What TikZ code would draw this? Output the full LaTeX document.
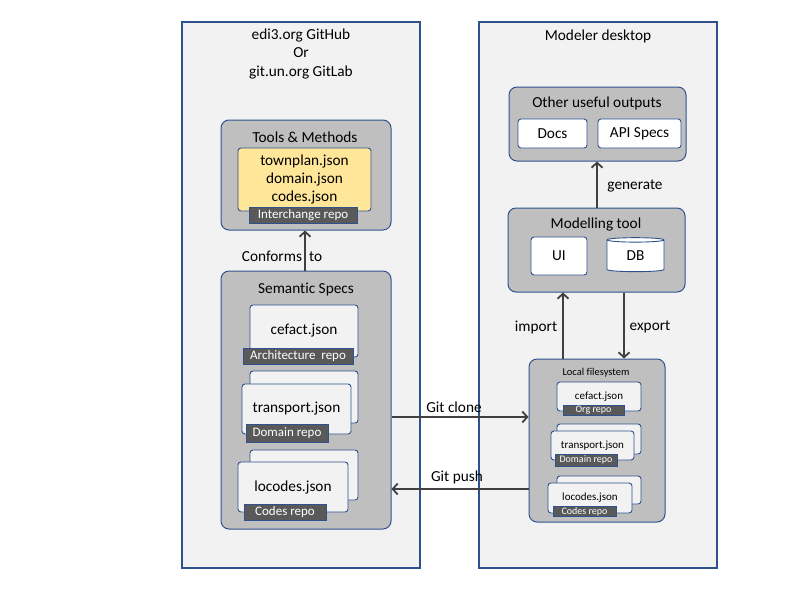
\documentclass[tikz,border=0pt]{standalone}
\usepackage{fontspec}
\setmainfont{Carlito}[Ligatures=NoCommon]
\usetikzlibrary{arrows.meta,shapes.geometric}
\definecolor{bord}{HTML}{2F528F}
\definecolor{panelfill}{HTML}{F2F2F2}
\definecolor{grpfill}{HTML}{BFBFBF}
\definecolor{yel}{HTML}{FFE699}
\definecolor{tagfill}{HTML}{595959}
\definecolor{arrc}{HTML}{404040}
\newcommand{\fs}[2]{\fontsize{#1pt}{#2pt}\selectfont}
\tikzset{
  panel/.style={draw=bord, fill=panelfill, line width=1.5pt, minimum width=#1, inner sep=0pt, minimum height=546pt},
  grp/.style={draw=bord, fill=grpfill, line width=1pt, rounded corners=8pt, inner sep=0pt},
  card/.style={draw=bord, fill=panelfill, line width=0.9pt, rounded corners=3pt, inner sep=0pt, font=\fs{15.3}{18}},
  scard/.style={card, font=\fs{11}{13}},
  tag/.style={draw=bord, fill=tagfill, line width=0.8pt, text=white, inner sep=0pt, font=\fs{13}{15}},
  stag/.style={tag, font=\fs{10}{12}},
  ttl/.style={inner sep=0pt, font=\fs{15.3}{18}, align=center},
  lbl/.style={inner sep=0pt, font=\fs{15.3}{18}, text=black},
  arr/.style={draw=arrc, line width=2.4pt, -{Straight Barb[length=5pt,width=11pt,line width=1.8pt]}},
  sz/.style 2 args={minimum width=#1, minimum height=#2},
}
\begin{document}
\begin{tikzpicture}[x=1pt,y=-1pt]
\useasboundingbox (0,0) rectangle (800,600);
% panels
\node[panel=238pt] (lp) at (301,295) {};
\node[panel=238pt] (rp) at (598,295) {};
\node[ttl, font=\fs{15.3}{18.5}, align=center] (lt) at (301,54) {edi3.org GitHub\\Or\\git.un.org GitLab};
\node[ttl] (rt) at (598,36) {Modeler desktop};
% Tools & Methods
\node[grp, sz={170pt}{110pt}] (tools) at (306,175) {};
\node[ttl] (toolst) at (305,137) {Tools \& Methods};
\node[card, fill=yel, sz={133pt}{63pt}, align=center, font=\fs{15.3}{18}] (yel) at (304.5,179.5) {townplan.json\\domain.json\\codes.json};
\node[tag, sz={108pt}{16pt}] (itag) at (303,215) {Interchange repo};
% Semantic Specs
\node[grp, sz={170pt}{258pt}] (sem) at (306,400) {};
\node[ttl] (semt) at (306,289) {Semantic Specs};
\node[card, sz={108pt}{52pt}] (cef) at (304,331) {cefact.json};
\node[tag, sz={110pt}{16pt}] (atag) at (298,356) {Architecture\ \ repo};
\node[card, sz={108pt}{52pt}] (trb) at (304,397) {};
\node[card, sz={109pt}{50pt}] (tr) at (296.5,409) {transport.json};
\node[tag, sz={82pt}{18pt}] (dtag) at (287,433.5) {Domain repo};
\node[card, sz={108pt}{50pt}] (lob) at (304,475) {};
\node[card, sz={110pt}{50pt}] (lo) at (293,487) {locodes.json};
\node[tag, sz={82pt}{16pt}] (ctag) at (285,512) {Codes repo};
% Other useful outputs
\node[grp, sz={177pt}{74pt}] (out) at (597.5,124) {};
\node[ttl] (outt) at (597,103) {Other useful outputs};
\node[card, sz={69pt}{29pt}, fill=white] (docs) at (552.5,133.5) {Docs};
\node[card, sz={83pt}{29pt}, fill=white] (api) at (639.5,133.5) {API Specs};
% Modelling tool
\node[grp, sz={177pt}{84pt}] (mod) at (596.5,250) {};
\node[ttl] (modt) at (596,224) {Modelling tool};
\node[card, sz={56pt}{38pt}, fill=white] (ui) at (559,256) {UI};
\node[cylinder, shape border rotate=90, aspect=0.25, draw=bord, fill=white, line width=0.9pt, inner sep=0pt, minimum width=57pt, minimum height=34pt, font=\fs{15.3}{18}] (db) at (635.5,256) {DB};
% Local filesystem
\node[grp, sz={136pt}{163pt}] (lfs) at (597,440.5) {};
\node[ttl, font=\fs{10.5}{12}] (lfst) at (596,373) {Local filesystem};
\node[scard, sz={84pt}{29pt}] (lcef) at (599,396.5) {cefact.json};
\node[stag, sz={61pt}{10pt}] (otag) at (593.5,410) {Org repo};
\node[scard, sz={84pt}{30pt}] (ltrb) at (599,439) {};
\node[scard, sz={83pt}{29pt}] (ltr) at (592.5,445.5) {transport.json};
\node[stag, sz={62pt}{12pt}] (ldtag) at (586,460) {Domain repo};
\node[scard, sz={84pt}{28pt}] (llob) at (599,490) {};
\node[scard, sz={84pt}{30pt}] (llo) at (590,498) {locodes.json};
\node[stag, sz={63pt}{10pt}] (lctag) at (584.5,511.5) {Codes repo};
% arrows
\draw[arr] (sem.north -| 305,0) -- (tools.south -| 305,0);
\node[lbl] (conf) at (282,256) {Conforms\hspace{7pt}to};
\draw[arr] (mod.north -| 597,0) -- (out.south -| 597,0);
\node[lbl] (gen) at (635,186) {generate};
\draw[arr] (lfs.north -| 563,0) -- (mod.south -| 563,0);
\node[lbl] (imp) at (536,327) {import};
\draw[arr] (mod.south -| 624,0) -- (lfs.north -| 624,0);
\node[lbl] (exp) at (650,327) {export};
\draw[arr] (sem.east |- 0,417) -- (lfs.west |- 0,417);
\node[lbl] (clone) at (454,407) {Git clone};
\draw[arr] (lfs.west |- 0,489) -- (sem.east |- 0,489);
\node[lbl] (push) at (457,477) {Git push};
\end{tikzpicture}
\end{document}
